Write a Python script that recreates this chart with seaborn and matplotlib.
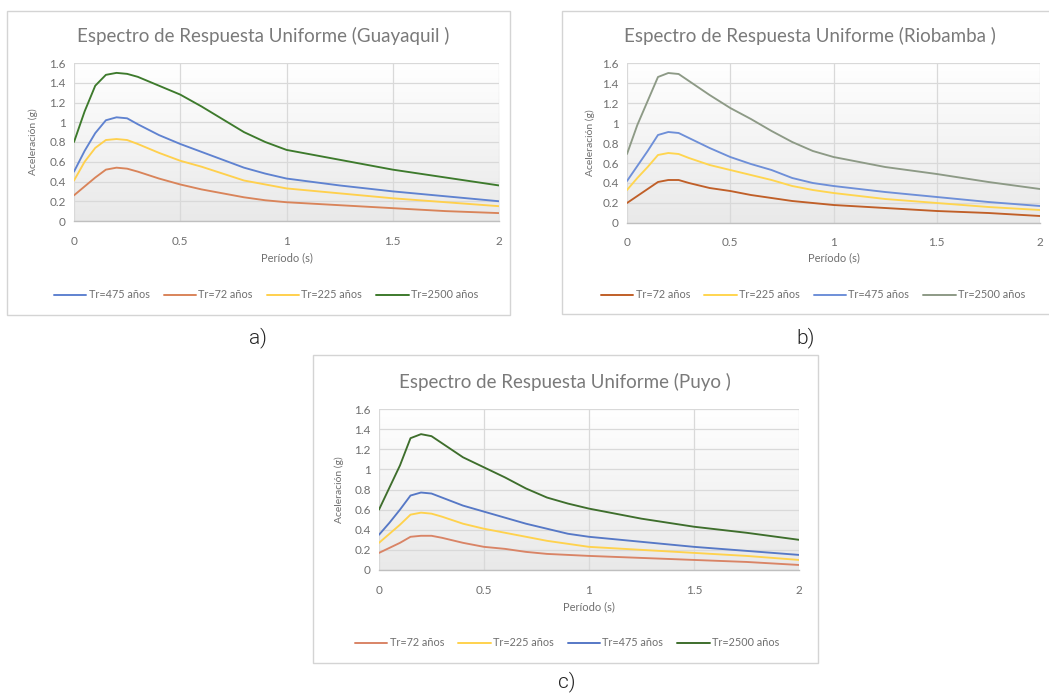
import numpy as np
import pandas as pd
import seaborn as sns
import matplotlib
matplotlib.use("Agg")
import matplotlib.pyplot as plt
from matplotlib.patches import Rectangle
from matplotlib.colors import LinearSegmentedColormap

# Periods (s)
periods = [0, 0.05, 0.1, 0.15, 0.2, 0.25, 0.3, 0.4, 0.5, 0.6, 0.7, 0.8, 0.9, 1.0, 1.25, 1.5, 1.75, 2.0]

# Guayaquil spectral accelerations (g)
gye_72 = [0.26, 0.35, 0.44, 0.52, 0.54, 0.53, 0.50, 0.43, 0.37, 0.32, 0.28, 0.24, 0.21, 0.19, 0.16, 0.13, 0.10, 0.08]
gye_225 = [0.41, 0.60, 0.74, 0.82, 0.83, 0.82, 0.78, 0.69, 0.61, 0.55, 0.48, 0.41, 0.37, 0.33, 0.28, 0.23, 0.19, 0.15]
gye_475 = [0.50, 0.71, 0.89, 1.02, 1.05, 1.04, 0.98, 0.87, 0.78, 0.70, 0.62, 0.54, 0.48, 0.43, 0.36, 0.30, 0.25, 0.20]
gye_2500 = [0.80, 1.11, 1.37, 1.48, 1.50, 1.49, 1.46, 1.37, 1.28, 1.16, 1.03, 0.90, 0.80, 0.72, 0.62, 0.52, 0.44, 0.36]

# Riobamba spectral accelerations (g)
rio_72 = [0.20, 0.27, 0.34, 0.41, 0.43, 0.43, 0.40, 0.35, 0.32, 0.28, 0.25, 0.22, 0.20, 0.18, 0.15, 0.12, 0.10, 0.07]
rio_225 = [0.33, 0.45, 0.56, 0.68, 0.70, 0.69, 0.65, 0.58, 0.53, 0.48, 0.43, 0.37, 0.33, 0.30, 0.24, 0.20, 0.16, 0.13]
rio_475 = [0.42, 0.57, 0.72, 0.88, 0.91, 0.90, 0.85, 0.75, 0.66, 0.59, 0.53, 0.45, 0.40, 0.37, 0.31, 0.26, 0.21, 0.17]
rio_2500 = [0.69, 0.98, 1.22, 1.46, 1.50, 1.49, 1.42, 1.28, 1.15, 1.04, 0.92, 0.81, 0.72, 0.66, 0.56, 0.49, 0.41, 0.34]

# Puyo spectral accelerations (g)
puy_72 = [0.17, 0.22, 0.27, 0.33, 0.34, 0.34, 0.32, 0.27, 0.23, 0.21, 0.18, 0.16, 0.15, 0.14, 0.12, 0.10, 0.08, 0.05]
puy_225 = [0.27, 0.36, 0.45, 0.55, 0.57, 0.56, 0.53, 0.46, 0.41, 0.37, 0.33, 0.29, 0.26, 0.23, 0.20, 0.17, 0.14, 0.10]
puy_475 = [0.35, 0.47, 0.60, 0.74, 0.77, 0.76, 0.72, 0.64, 0.58, 0.52, 0.46, 0.41, 0.36, 0.33, 0.28, 0.23, 0.19, 0.15]
puy_2500 = [0.60, 0.82, 1.04, 1.31, 1.35, 1.33, 1.26, 1.12, 1.02, 0.92, 0.81, 0.72, 0.66, 0.61, 0.51, 0.43, 0.37, 0.30]

series_labels = ["Tr=72 años", "Tr=225 años", "Tr=475 años", "Tr=2500 años"]
x_ticks = [0, 0.5, 1, 1.5, 2]
x_ticklabels = ["0", "0.5", "1", "1.5", "2"]
y_ticks = [0, 0.2, 0.4, 0.6, 0.8, 1.0, 1.2, 1.4, 1.6]
y_ticklabels = ["0", "0.2", "0.4", "0.6", "0.8", "1", "1.2", "1.4", "1.6"]

sns.set_theme(style="white")
plt.rcParams["font.family"] = ["Lato", "DejaVu Sans"]

W, H = 1049, 693
fig = plt.figure(figsize=(W / 100, H / 100), dpi=100)

TXT = "#6f6f6f"
TITLE = "#7a7a7a"
bg_cmap = LinearSegmentedColormap.from_list("plotbg", ["#e9e9e9", "#ffffff"])


def fx(px):
    return px / W


def fy(py):
    return 1 - py / H


def panel(frame, area, title, title_xy, values, order, palette, tick_y, xlabel_y,
          ylabel_x, legend_xy, sub_label, sub_xy):
    fl, ft, fr, fb = frame
    fig.patches.append(Rectangle((fx(fl), fy(fb)), fx(fr - fl), (fb - ft) / H,
                                 transform=fig.transFigure, facecolor="white",
                                 edgecolor="#d4d4d4", linewidth=1.0, zorder=-5))
    l, t, r, b = area
    ax = fig.add_axes([fx(l), fy(b), fx(r - l), (b - t) / H])
    ax.set_zorder(1)
    ax.set_facecolor("none")

    grad = np.linspace(0, 1, 256).reshape(-1, 1)
    ax.imshow(grad, extent=[0, 2, 0, 1.6], origin="lower", aspect="auto",
              cmap=bg_cmap, zorder=0)

    df = pd.DataFrame({
        "Periodo": np.tile(periods, 4),
        "Sa": np.concatenate([values[k] for k in series_labels]),
        "Serie": np.repeat(series_labels, len(periods)),
    })
    sns.lineplot(data=df, x="Periodo", y="Sa", hue="Serie", hue_order=order,
                 palette=palette, linewidth=1.35, ax=ax, zorder=3)
    for ln in ax.get_lines():
        ln.set_solid_joinstyle("round")

    ax.set_xlim(0, 2)
    ax.set_ylim(0, 1.6)
    ax.set_xticks(x_ticks)
    ax.set_xticklabels(x_ticklabels)
    ax.set_yticks(y_ticks)
    ax.set_yticklabels(y_ticklabels)
    ax.tick_params(length=0, labelsize=8.5, colors=TXT, pad=6)
    ax.tick_params(axis="x", pad=(tick_y - b) - 6)
    ax.grid(True, color="#d9d9d9", linewidth=0.9)
    ax.set_axisbelow(True)
    for s in ["left", "top", "right"]:
        ax.spines[s].set_visible(False)
    ax.spines["bottom"].set_color("#bfbfbf")
    ax.spines["bottom"].set_linewidth(1.0)
    ax.set_xlabel("")
    ax.set_ylabel("")

    fig.text(fx(title_xy[0]), fy(title_xy[1]), title, ha="center", va="center",
             fontsize=13.5, color=TITLE)
    fig.text(fx((l + r) / 2), fy(xlabel_y), "Período (s)", ha="center", va="center",
             fontsize=8, color=TXT)
    fig.text(fx(ylabel_x), fy((t + b) / 2), "Aceleración (g)", ha="center",
             va="center", rotation=90, fontsize=7.5, color=TXT)

    handles, labels = ax.get_legend_handles_labels()
    ax.get_legend().remove()
    leg = fig.legend(handles, labels, loc="center",
                     bbox_to_anchor=(fx(legend_xy[0]), fy(legend_xy[1])),
                     ncol=4, frameon=False, fontsize=7.8, handlelength=3.0,
                     handletextpad=0.2, columnspacing=1.3)
    for txt in leg.get_texts():
        txt.set_color(TXT)
    for ln in leg.get_lines():
        ln.set_linewidth(1.4)

    fig.text(fx(sub_xy[0]), fy(sub_xy[1]), sub_label, ha="center", va="center",
             fontsize=15, family=["Roboto", "DejaVu Sans"], fontweight=300,
             color="#222222")
    return ax


pal_a = {"Tr=72 años": "#d9845a", "Tr=225 años": "#ffd04d",
         "Tr=475 años": "#5f82d0", "Tr=2500 años": "#3d7a2c"}
pal_b = {"Tr=72 años": "#c05f28", "Tr=225 años": "#ffd54f",
         "Tr=475 años": "#6e8fd8", "Tr=2500 años": "#8d9a86"}
pal_c = {"Tr=72 años": "#d98466", "Tr=225 años": "#ffd24d",
         "Tr=475 años": "#5678c6", "Tr=2500 años": "#3e6e2c"}

vals_a = dict(zip(series_labels, [gye_72, gye_225, gye_475, gye_2500]))
vals_b = dict(zip(series_labels, [rio_72, rio_225, rio_475, rio_2500]))
vals_c = dict(zip(series_labels, [puy_72, puy_225, puy_475, puy_2500]))

panel(frame=(7, 11, 510, 315), area=(74, 63, 499, 221),
      title="Espectro de Respuesta Uniforme (Guayaquil )", title_xy=(263, 36),
      values=vals_a,
      order=["Tr=475 años", "Tr=72 años", "Tr=225 años", "Tr=2500 años"],
      palette=pal_a, tick_y=238, xlabel_y=258, ylabel_x=33,
      legend_xy=(266, 295), sub_label="a)", sub_xy=(258, 338))

panel(frame=(562, 11, 1056, 314), area=(627, 63, 1040, 223),
      title="Espectro de Respuesta Uniforme (Riobamba )", title_xy=(810, 36),
      values=vals_b,
      order=["Tr=72 años", "Tr=225 años", "Tr=475 años", "Tr=2500 años"],
      palette=pal_b, tick_y=239, xlabel_y=258, ylabel_x=590,
      legend_xy=(813, 295), sub_label="b)", sub_xy=(806, 338))

panel(frame=(313, 355, 818, 663), area=(379, 409, 799, 570),
      title="Espectro de Respuesta Uniforme (Puyo )", title_xy=(565, 382),
      values=vals_c,
      order=["Tr=72 años", "Tr=225 años", "Tr=475 años", "Tr=2500 años"],
      palette=pal_c, tick_y=587, xlabel_y=607, ylabel_x=339,
      legend_xy=(567, 643), sub_label="c)", sub_xy=(567, 682))

fig.savefig("out.png", dpi=100, facecolor="white")
